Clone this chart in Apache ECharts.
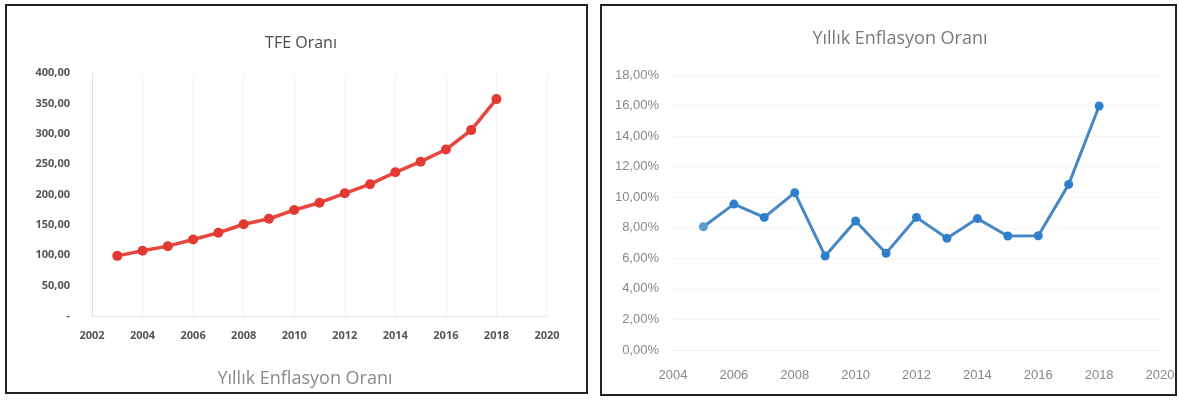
<!DOCTYPE html>
<html>
<head>
<meta charset="utf-8">
<script src="https://cdn.jsdelivr.net/npm/echarts@6/dist/echarts.min.js"></script>
<style>
html,body{margin:0;padding:0;background:#fff;}
#c{width:1179px;height:402px;}
</style>
</head>
<body>
<div id="c"></div>
<script>
// Left chart: TFE Oranı
const tfeYears = [2003,2004,2005,2006,2007,2008,2009,2010,2011,2012,2013,2014,2015,2016,2017,2018];
const tfeValues = [99,107.5,115,126,137,151,160,174.5,186.5,202,217,236.5,254,274,306,357];
// Right chart: Yıllık Enflasyon Oranı (%)
const infYears = [2005,2006,2007,2008,2009,2010,2011,2012,2013,2014,2015,2016,2017,2018];
const infValues = [8.07,9.55,8.68,10.3,6.15,8.44,6.33,8.68,7.31,8.6,7.46,7.48,10.84,15.97];

const leftTitle = 'TFE Oranı';
const rightTitle = 'Yıllık Enflasyon Oranı';
const leftBottomText = 'Yıllık Enflasyon Oranı';

const chart = echarts.init(document.getElementById('c'), null, {renderer:'canvas'});
const fam = '"Open Sans", "Liberation Sans", sans-serif';
const narrow = '"Liberation Sans Narrow", "Liberation Sans", sans-serif';

chart.setOption({
  backgroundColor:'#fff',
  animation:false,
  graphic:[
    {type:'rect', shape:{x:6,y:5,width:581,height:388}, style:{fill:'none', stroke:'#222', lineWidth:2}, silent:true, z:-1},
    {type:'rect', shape:{x:601,y:5,width:575,height:390}, style:{fill:'none', stroke:'#222', lineWidth:2}, silent:true, z:-1},
    {type:'text', x:301, y:43, style:{text:leftTitle, fill:'#4a4a4a', font:'16px '+fam, textAlign:'center', textVerticalAlign:'middle'}},
    {type:'text', x:900, y:39, style:{text:rightTitle, fill:'#7a7a7a', font:'18px '+fam, textAlign:'center', textVerticalAlign:'middle'}},
    {type:'text', x:305, y:379, style:{text:leftBottomText, fill:'#8a8a8a', font:'18px '+fam, textAlign:'center', textVerticalAlign:'middle'}}
  ],
  grid:[
    {left:92, right:632, top:73, bottom:86},
    {left:673, right:19, top:75, bottom:52}
  ],
  xAxis:[
    {type:'value', gridIndex:0, min:2002, max:2020, interval:2,
     axisLine:{show:true, lineStyle:{color:'#e4e8ee'}}, axisTick:{show:false},
     splitLine:{show:true, lineStyle:{color:'#f2f2f2'}},
     axisLabel:{margin:14, color:'#555', fontSize:11, fontWeight:'bold', fontFamily:fam, formatter:v=>String(v)}},
    {type:'value', gridIndex:1, min:2004, max:2020, interval:2,
     axisLine:{show:true, lineStyle:{color:'#f0f0f0'}}, axisTick:{show:false},
     splitLine:{show:false},
     axisLabel:{margin:19, color:'#888', fontSize:13, fontFamily:narrow, formatter:v=>String(v)}}
  ],
  yAxis:[
    {type:'value', gridIndex:0, min:0, max:400, interval:50,
     axisLine:{show:true, lineStyle:{color:'#dde3ea'}}, axisTick:{show:false},
     splitLine:{show:false},
     axisLabel:{margin:22, color:'#555', fontSize:11, fontWeight:'bold', fontFamily:fam,
       formatter:v=> v===0 ? '-' : v.toFixed(2).replace('.',',')}},
    {type:'value', gridIndex:1, min:0, max:18, interval:2,
     axisLine:{show:false}, axisTick:{show:false},
     splitLine:{show:true, lineStyle:{color:'#f7f7f7'}},
     axisLabel:{margin:14, color:'#888', fontSize:13, fontFamily:narrow,
       formatter:v=> v.toFixed(2).replace('.',',')+'%'}}
  ],
  series:[
    {type:'line', xAxisIndex:0, yAxisIndex:0,
     data:tfeYears.map((y,i)=>[y,tfeValues[i]]),
     symbol:'circle', symbolSize:10,
     lineStyle:{color:'#e8463f', width:3.5},
     itemStyle:{color:'#e23a33'}},
    {type:'line', xAxisIndex:1, yAxisIndex:1,
     data:infYears.map((y,i)=> i===0 ? {value:[y,infValues[i]], itemStyle:{color:'#5b9bd0'}} : [y,infValues[i]]),
     symbol:'circle', symbolSize:9,
     lineStyle:{color:'#4787c2', width:3},
     itemStyle:{color:'#2f80cc'}}
  ]
});
</script>
</body>
</html>
